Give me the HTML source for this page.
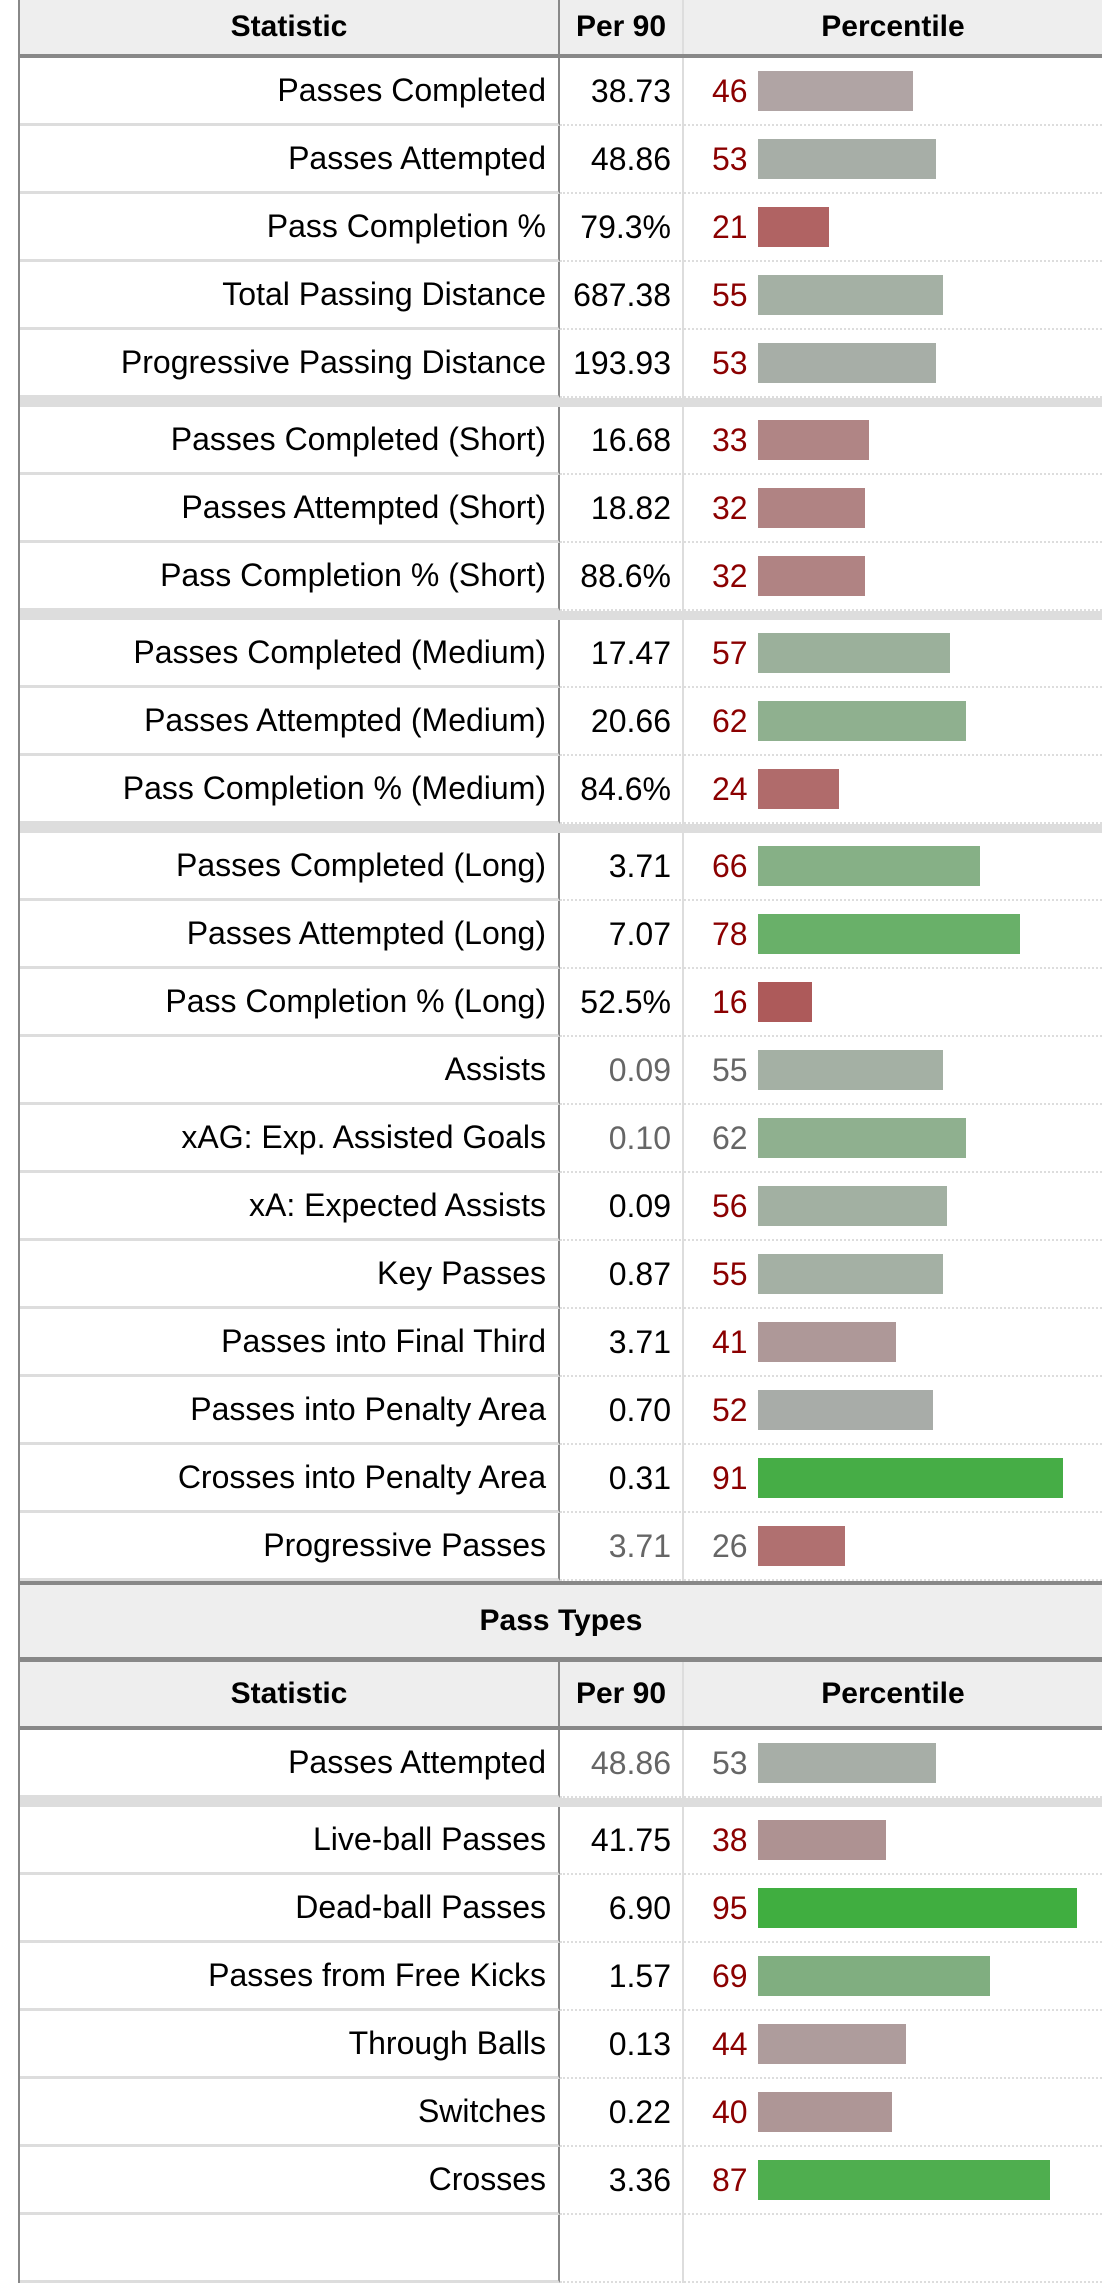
<!DOCTYPE html>
<html><head><meta charset="utf-8"><style>
body{margin:0;width:1116px;height:2221px;overflow:hidden;background:#fff;font-family:"Liberation Sans",sans-serif;color:#000}
.t{position:absolute;left:18px;top:0;width:1082px;border-left:2px solid #888}
.r{display:flex;height:68px;font-size:32px}
.a,.b,.c{box-sizing:border-box;height:68px;display:flex;align-items:center}
.a{width:540px;justify-content:flex-end;padding-right:12px;border-right:2px solid #888;border-bottom:3px solid #ddd;white-space:nowrap}
.b{width:124px;justify-content:flex-end;padding-right:11px;border-right:2px solid #ddd;border-bottom:2px dotted #ddd}
.c{flex:1;border-bottom:2px dotted #ddd;padding-left:28px}
.n{width:46px;color:#8b0000}
.g{color:#666}
.bar{height:40px}
.band{height:9px;background:#ddd}
.h{display:flex;height:58px;background:#eee;border-bottom:4px solid #888;box-sizing:border-box;font-weight:bold;font-size:30px}
.h div{display:flex;align-items:center;justify-content:center;box-sizing:border-box}
.pt{height:72px;background:#eee;border-top:4px solid #888;border-bottom:5px solid #888;display:flex;align-items:center;justify-content:center;font-weight:bold;font-size:30px}
</style></head><body>
<div class="t">
<div class="h"><div style="width:540px;border-right:2px solid #888">Statistic</div><div style="width:124px;border-right:2px solid #ddd">Per 90</div><div style="flex:1">Percentile</div></div>
<div class="r"><div class="a">Passes Completed</div><div class="b">38.73</div><div class="c"><span class="n">46</span><div class="bar" style="width:155px;background:#b0a4a4"></div></div></div>
<div class="r"><div class="a">Passes Attempted</div><div class="b">48.86</div><div class="c"><span class="n">53</span><div class="bar" style="width:178px;background:#a7aea7"></div></div></div>
<div class="r"><div class="a">Pass Completion %</div><div class="b">79.3%</div><div class="c"><span class="n">21</span><div class="bar" style="width:71px;background:#b06363"></div></div></div>
<div class="r"><div class="a">Total Passing Distance</div><div class="b">687.38</div><div class="c"><span class="n">55</span><div class="bar" style="width:185px;background:#a4b0a4"></div></div></div>
<div class="r"><div class="a">Progressive Passing Distance</div><div class="b">193.93</div><div class="c"><span class="n">53</span><div class="bar" style="width:178px;background:#a7aea7"></div></div></div>
<div class="band"></div>
<div class="r"><div class="a">Passes Completed (Short)</div><div class="b">16.68</div><div class="c"><span class="n">33</span><div class="bar" style="width:111px;background:#b08585"></div></div></div>
<div class="r"><div class="a">Passes Attempted (Short)</div><div class="b">18.82</div><div class="c"><span class="n">32</span><div class="bar" style="width:107px;background:#b08383"></div></div></div>
<div class="r"><div class="a">Pass Completion % (Short)</div><div class="b">88.6%</div><div class="c"><span class="n">32</span><div class="bar" style="width:107px;background:#b08383"></div></div></div>
<div class="band"></div>
<div class="r"><div class="a">Passes Completed (Medium)</div><div class="b">17.47</div><div class="c"><span class="n">57</span><div class="bar" style="width:192px;background:#9bb09b"></div></div></div>
<div class="r"><div class="a">Passes Attempted (Medium)</div><div class="b">20.66</div><div class="c"><span class="n">62</span><div class="bar" style="width:208px;background:#8fb08f"></div></div></div>
<div class="r"><div class="a">Pass Completion % (Medium)</div><div class="b">84.6%</div><div class="c"><span class="n">24</span><div class="bar" style="width:81px;background:#b06b6b"></div></div></div>
<div class="band"></div>
<div class="r"><div class="a">Passes Completed (Long)</div><div class="b">3.71</div><div class="c"><span class="n">66</span><div class="bar" style="width:222px;background:#86b086"></div></div></div>
<div class="r"><div class="a">Passes Attempted (Long)</div><div class="b">7.07</div><div class="c"><span class="n">78</span><div class="bar" style="width:262px;background:#69b069"></div></div></div>
<div class="r"><div class="a">Pass Completion % (Long)</div><div class="b">52.5%</div><div class="c"><span class="n">16</span><div class="bar" style="width:54px;background:#ad5a5a"></div></div></div>
<div class="r"><div class="a">Assists</div><div class="b g">0.09</div><div class="c"><span class="n g">55</span><div class="bar" style="width:185px;background:#a4b0a4"></div></div></div>
<div class="r"><div class="a">xAG: Exp. Assisted Goals</div><div class="b g">0.10</div><div class="c"><span class="n g">62</span><div class="bar" style="width:208px;background:#8fb08f"></div></div></div>
<div class="r"><div class="a">xA: Expected Assists</div><div class="b">0.09</div><div class="c"><span class="n">56</span><div class="bar" style="width:189px;background:#a2b0a2"></div></div></div>
<div class="r"><div class="a">Key Passes</div><div class="b">0.87</div><div class="c"><span class="n">55</span><div class="bar" style="width:185px;background:#a4b0a4"></div></div></div>
<div class="r"><div class="a">Passes into Final Third</div><div class="b">3.71</div><div class="c"><span class="n">41</span><div class="bar" style="width:138px;background:#ae9898"></div></div></div>
<div class="r"><div class="a">Passes into Penalty Area</div><div class="b">0.70</div><div class="c"><span class="n">52</span><div class="bar" style="width:175px;background:#a8aca8"></div></div></div>
<div class="r"><div class="a">Crosses into Penalty Area</div><div class="b">0.31</div><div class="c"><span class="n">91</span><div class="bar" style="width:305px;background:#46ad46"></div></div></div>
<div class="r"><div class="a">Progressive Passes</div><div class="b g">3.71</div><div class="c"><span class="n g">26</span><div class="bar" style="width:87px;background:#b07070"></div></div></div>
<div class="pt">Pass Types</div>
<div class="h" style="height:68px"><div style="width:540px;border-right:2px solid #888">Statistic</div><div style="width:124px;border-right:2px solid #ddd">Per 90</div><div style="flex:1">Percentile</div></div>
<div class="r"><div class="a">Passes Attempted</div><div class="b g">48.86</div><div class="c"><span class="n g">53</span><div class="bar" style="width:178px;background:#a7aea7"></div></div></div>
<div class="band"></div>
<div class="r"><div class="a">Live-ball Passes</div><div class="b">41.75</div><div class="c"><span class="n">38</span><div class="bar" style="width:128px;background:#ae9292"></div></div></div>
<div class="r"><div class="a">Dead-ball Passes</div><div class="b">6.90</div><div class="c"><span class="n">95</span><div class="bar" style="width:319px;background:#40ae40"></div></div></div>
<div class="r"><div class="a">Passes from Free Kicks</div><div class="b">1.57</div><div class="c"><span class="n">69</span><div class="bar" style="width:232px;background:#80ae80"></div></div></div>
<div class="r"><div class="a">Through Balls</div><div class="b">0.13</div><div class="c"><span class="n">44</span><div class="bar" style="width:148px;background:#ae9c9c"></div></div></div>
<div class="r"><div class="a">Switches</div><div class="b">0.22</div><div class="c"><span class="n">40</span><div class="bar" style="width:134px;background:#ae9696"></div></div></div>
<div class="r"><div class="a">Crosses</div><div class="b">3.36</div><div class="c"><span class="n">87</span><div class="bar" style="width:292px;background:#4fae4f"></div></div></div>
<div class="r"><div class="a"></div><div class="b"></div><div class="c"></div></div>
</div>
</body></html>
